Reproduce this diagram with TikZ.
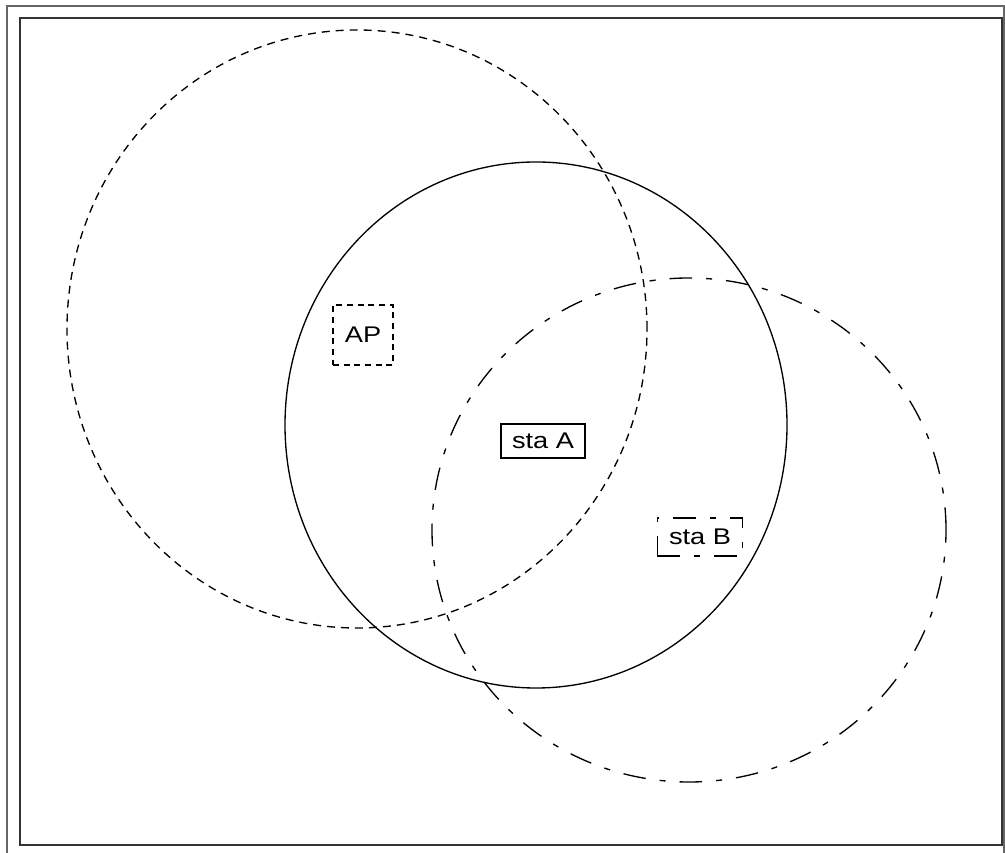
\documentclass[tikz,border=0pt]{standalone}
\usepackage{fontspec}
\usepackage{graphicx}
\setmainfont{Liberation Sans}
\usetikzlibrary{shapes.geometric}
% wide sans labels for the stations
\newcommand{\wlabel}[1]{\scalebox{1.2}[1]{#1}}
\begin{document}
\begin{tikzpicture}[x=0.75pt,y=0.75pt,
  frameline/.style={line width=1pt,draw=black!80},
  aprange/.style={line width=1pt,dash pattern=on 6pt off 4.5pt},
  arange/.style={line width=1pt},
  brange/.style={line width=1pt,dash pattern=on 17pt off 10.5pt on 4.5pt off 10.5pt},
  stalabel/.style={draw,line width=0.8pt,inner sep=0pt,
    font=\fontsize{17pt}{20pt}\selectfont}]
  \useasboundingbox (0,0) rectangle (1005,852);
  % double page frame
  \draw[frameline,draw=black!60] (7,846) rectangle (1004,-6);
  \draw[frameline] (20,834) rectangle (1002,7);
  % coverage ranges
  \draw[aprange] (357,523) ellipse [x radius=290, y radius=299];
  \draw[arange]  (536,427) ellipse [x radius=251, y radius=263];
  \draw[brange]  (689,322) ellipse [x radius=257, y radius=252];
  % stations
  \node[stalabel,dash pattern=on 4.5pt off 3.5pt,minimum width=45pt,minimum height=45pt]
    (ap) at (363,517) {\wlabel{AP}};
  \node[stalabel,minimum width=63pt,minimum height=25.5pt]
    (staA) at (543,411) {\wlabel{sta A}};
  \node[stalabel,dash pattern=on 17pt off 10.5pt on 4.5pt off 10.5pt,minimum width=64pt,minimum height=28.5pt]
    (staB) at (700,315) {\wlabel{sta B}};
\end{tikzpicture}
\end{document}
